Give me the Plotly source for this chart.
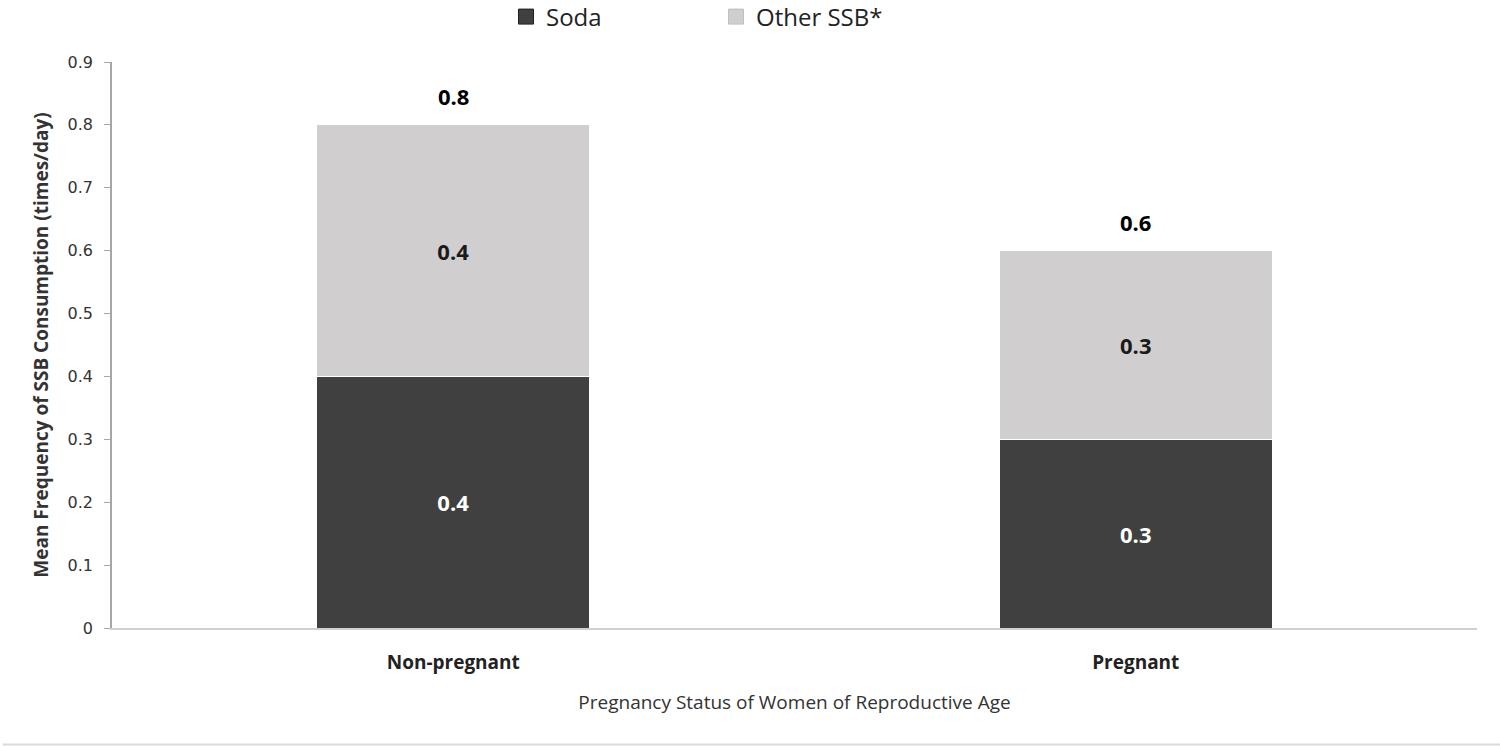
import plotly.graph_objects as go

categories = ["Non-pregnant", "Pregnant"]
soda = [0.4, 0.3]
other_ssb = [0.4, 0.3]
totals = [0.8, 0.6]
y_ticks = [0, 0.1, 0.2, 0.3, 0.4, 0.5, 0.6, 0.7, 0.8, 0.9]
y_tick_labels = ["0", "0.1", "0.2", "0.3", "0.4", "0.5", "0.6", "0.7", "0.8", "0.9"]

FONT = "Open Sans, Noto Sans, sans-serif"
SODA_COLOR = "#404040"
OTHER_COLOR = "#d0cecf"

fig = go.Figure()
fig.add_trace(go.Bar(
    x=categories, y=soda, name="Soda", showlegend=False,
    marker=dict(color=SODA_COLOR, line=dict(color="#ffffff", width=1)),
    text=[f"{v:.1f}" for v in soda], textposition="inside", insidetextanchor="middle",
    textfont=dict(color="white", size=22, family=FONT, weight="bold"),
))
fig.add_trace(go.Bar(
    x=categories, y=other_ssb, name="Other SSB*", showlegend=False,
    marker=dict(color=OTHER_COLOR, line=dict(color="#ffffff", width=1)),
    text=[f"{v:.1f}" for v in other_ssb], textposition="inside", insidetextanchor="middle",
    textfont=dict(color="#1a1a1a", size=22, family=FONT, weight="bold"),
))
# legend entries with larger square swatches
for name, col, edge in [("Soda", SODA_COLOR, "#202020"), ("Other SSB*", OTHER_COLOR, "#c0c0c0")]:
    fig.add_trace(go.Scatter(
        x=[None], y=[None], mode="markers", name=name,
        marker=dict(symbol="square", size=15, color=col, line=dict(color=edge, width=1)),
    ))

for c, t in zip(categories, totals):
    fig.add_annotation(x=c, y=t, text=f"{t:.1f}", showarrow=False, yshift=29,
                       font=dict(size=22, color="black", family=FONT, weight="bold"))

fig.add_shape(type="line", xref="paper", yref="paper", x0=-0.08, x1=1.02,
              y0=-0.206, y1=-0.206, line=dict(color="#d9d9d9", width=2))

fig.update_layout(
    barmode="stack", bargap=0.6,
    width=1500, height=746,
    margin=dict(l=112, r=23, t=62, b=118),
    paper_bgcolor="white", plot_bgcolor="white",
    showlegend=True,
    legend=dict(orientation="h", x=506 / 1500, xanchor="left", xref="container",
                y=1 - 17 / 746, yanchor="middle", yref="container",
                font=dict(size=24, family=FONT, color="#222"), traceorder="normal",
                itemwidth=30, entrywidth=165, entrywidthmode="pixels"),
    xaxis=dict(showline=True, linecolor="#d0d0d0", linewidth=1.5,
               ticks="outside", ticklen=16, tickcolor="rgba(0,0,0,0)",
               tickfont=dict(size=19, family=FONT, color="#222", weight="bold"),
               title=dict(text="Pregnancy Status of Women of Reproductive Age",
                          font=dict(size=19, family=FONT, color="#333"), standoff=22)),
    yaxis=dict(range=[0, 0.9], tickvals=y_ticks, ticktext=y_tick_labels,
               showgrid=False, zeroline=False, showline=True, linecolor="#a6a6a6",
               linewidth=1.5, ticks="outside", ticklen=6, tickcolor="#a6a6a6",
               ticklabelstandoff=8,
               tickfont=dict(size=16, family="DejaVu Sans, Verdana, sans-serif", color="#333"),
               title=dict(text="Mean Frequency of SSB Consumption (times/day)",
                          font=dict(size=19, family=FONT, color="#333", weight="bold"),
                          standoff=14)),
)

fig.write_html("out.html", config={"displayModeBar": False},
               post_script="document.body.style.margin='0';document.body.style.padding='0';")
